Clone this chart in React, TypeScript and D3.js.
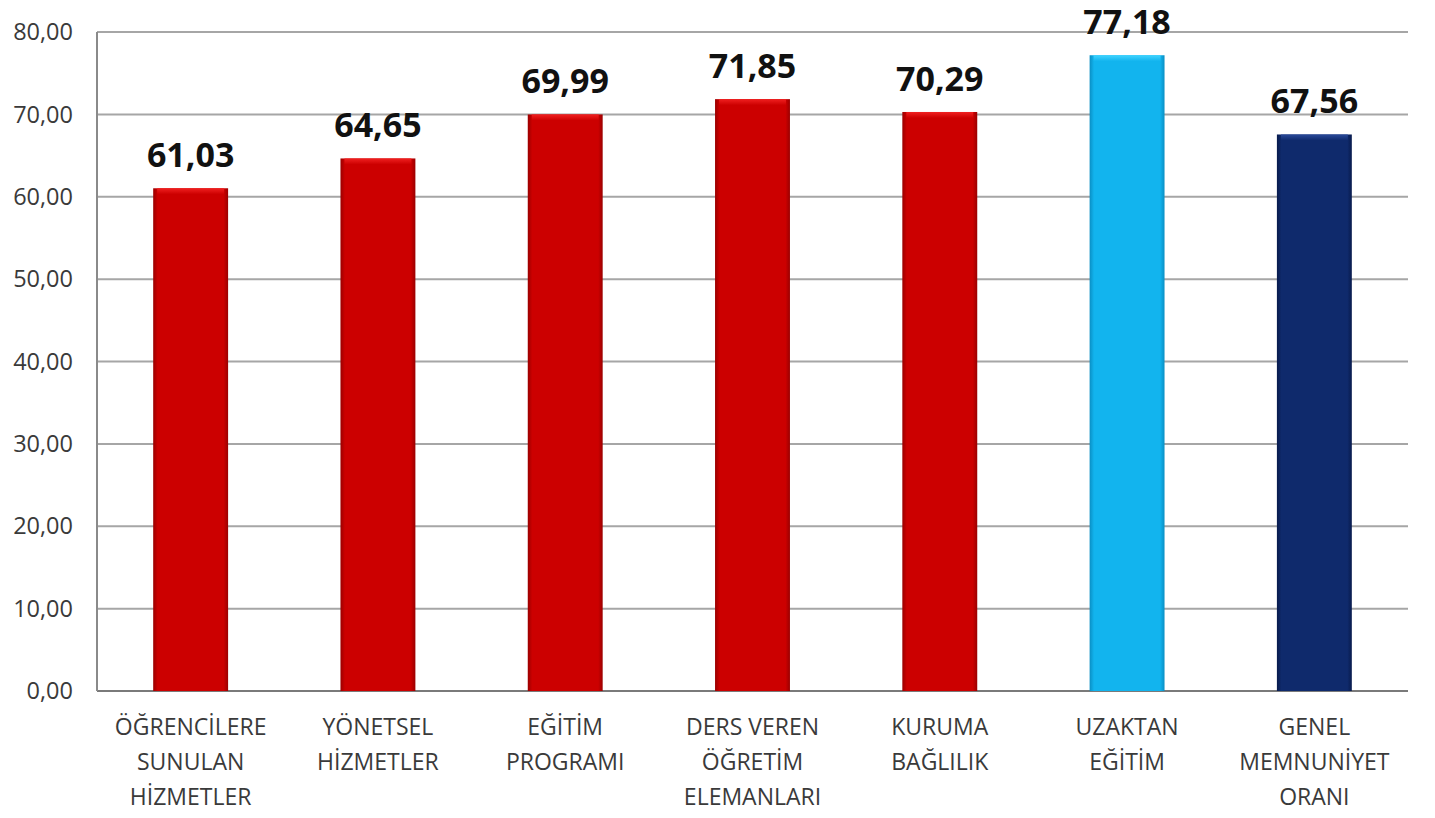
import React from "react";
import * as d3 from "d3";

const categories: string[][] = [
  ["ÖĞRENCİLERE", "SUNULAN", "HİZMETLER"],
  ["YÖNETSEL", "HİZMETLER"],
  ["EĞİTİM", "PROGRAMI"],
  ["DERS VEREN", "ÖĞRETİM", "ELEMANLARI"],
  ["KURUMA", "BAĞLILIK"],
  ["UZAKTAN", "EĞİTİM"],
  ["GENEL", "MEMNUNİYET", "ORANI"],
];
const values: number[] = [61.03, 64.65, 69.99, 71.85, 70.29, 77.18, 67.56];
const colorKeys: string[] = ["red", "red", "red", "red", "red", "light", "dark"];
const yTicks: number[] = [0, 10, 20, 30, 40, 50, 60, 70, 80];

const palette: Record<string, { base: string; light: string; dark: string }> = {
  red: { base: "#cc0000", light: "#f02020", dark: "#9a0000" },
  light: { base: "#12b4ee", light: "#40d4ff", dark: "#0a8fc4" },
  dark: { base: "#0f2a6c", light: "#2a4a9a", dark: "#081a4c" },
};

const W = 1435;
const H = 818;
const left = 97;
const right = 1408;
const top = 32;
const bottom = 691;

export default function App() {
  const x = d3
    .scaleBand<number>()
    .domain(values.map((_, i) => i))
    .range([left, right])
    .paddingInner(0.6)
    .paddingOuter(0.3);
  const y = d3.scaleLinear().domain([0, 80]).range([bottom, top]);
  const fmt = (v: number) => v.toFixed(2).replace(".", ",");
  const font = "'Open Sans', 'Noto Sans', sans-serif";

  return (
    <svg
      width={W}
      height={H}
      style={{ position: "absolute", left: 0, top: 0, background: "#fff" }}
    >
      <defs>
        {Object.entries(palette).map(([k, c]) => (
          <React.Fragment key={k}>
            <linearGradient id={`h-${k}`} x1="0" x2="1" y1="0" y2="0">
              <stop offset="0" stopColor={c.dark} />
              <stop offset="0.06" stopColor={c.base} />
              <stop offset="0.94" stopColor={c.base} />
              <stop offset="1" stopColor={c.dark} />
            </linearGradient>
            <linearGradient id={`v-${k}`} x1="0" x2="0" y1="0" y2="1">
              <stop offset="0" stopColor={c.light} />
              <stop offset="1" stopColor={c.base} />
            </linearGradient>
          </React.Fragment>
        ))}
      </defs>
      {yTicks.map((t) => (
        <g key={t}>
          <line
            x1={left}
            x2={right}
            y1={y(t)}
            y2={y(t)}
            stroke={t === 0 ? "#7a7a7a" : "#a6a6a6"}
            strokeWidth={2}
          />
          <text
            x={73}
            y={y(t)}
            dy="0.35em"
            textAnchor="end"
            fontFamily={font}
            fontSize={23.5}
            fill="#3a3a3a"
          >
            {fmt(t)}
          </text>
        </g>
      ))}
      <line x1={left} x2={left} y1={top} y2={bottom} stroke="#8a8a8a" strokeWidth={2} />
      {values.map((v, i) => {
        const bx = x(i)!;
        const bw = x.bandwidth();
        const by = y(v);
        const bh = bottom - by;
        const k = colorKeys[i];
        return (
          <g key={i}>
            <rect x={bx} y={by} width={bw} height={bh} fill={`url(#h-${k})`} />
            <rect x={bx + 4} y={by} width={bw - 8} height={6} fill={`url(#v-${k})`} />
            <text
              x={bx + bw / 2}
              y={by - 21}
              textAnchor="middle"
              fontFamily={font}
              fontWeight="bold"
              fontSize={34}
              fill="#111"
            >
              {fmt(v)}
            </text>
            {categories[i].map((line, j) => (
              <text
                key={j}
                x={bx + bw / 2}
                y={727 + j * 35}
                dy="0.35em"
                textAnchor="middle"
                fontFamily={font}
                fontSize={23}
                fill="#3a3a3a"
              >
                {line}
              </text>
            ))}
          </g>
        );
      })}
    </svg>
  );
}
